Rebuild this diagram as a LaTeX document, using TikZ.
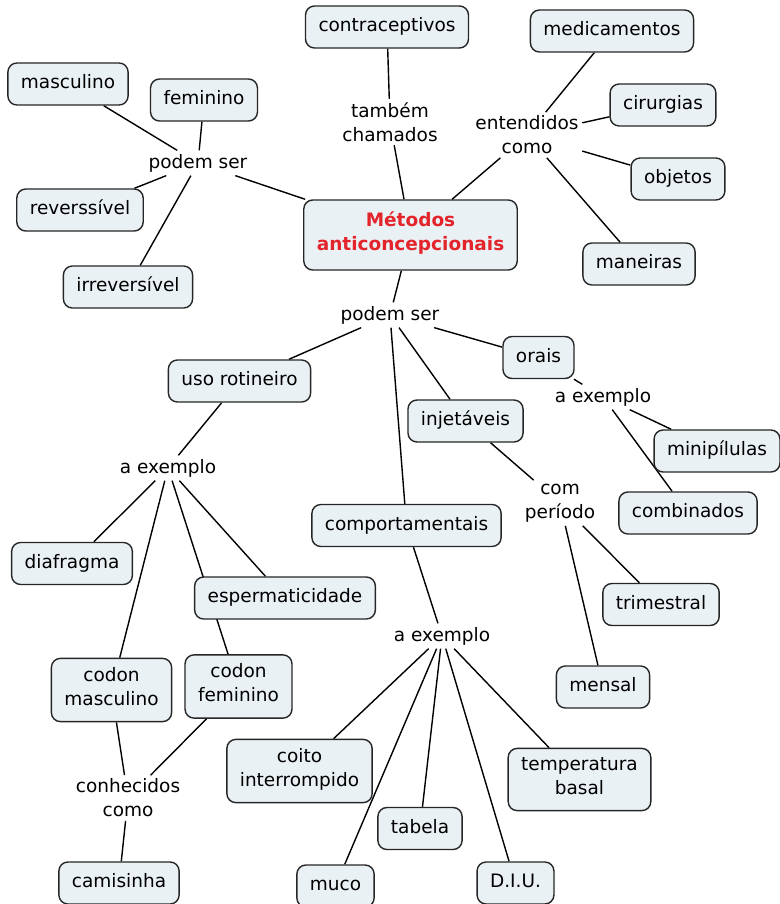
\documentclass[tikz,border=0pt]{standalone}
\usepackage{fontspec}
\setmainfont{DejaVu Sans}
\usetikzlibrary{backgrounds}
\definecolor{conceptfill}{HTML}{EAF1F4}
\definecolor{titlered}{HTML}{E3242B}

\begin{document}
\begin{tikzpicture}[x=1pt,y=-1pt,line width=1.4pt,
  every node/.style={font=\fontsize{18.5}{24}\selectfont,align=center},
  concept/.style={draw=black!85,fill=conceptfill,rounded corners=9pt,inner xsep=13pt,inner ysep=9pt,execute at begin node=\strut,execute at end node=\strut},
  title node/.style={concept,inner ysep=12pt,text=titlered,font=\fontsize{18.5}{24}\selectfont\bfseries},
  link/.style={inner sep=3pt}]
  \useasboundingbox (0,0) rectangle (779,904);

  % center
  \node[title node] (metodos) at (410.5,235) {Métodos\\anticoncepcionais};

  % top
  \node[concept] (contracep) at (387,27) {contraceptivos};
  \node[link] (tambem) at (390,122) {também\\chamados};
  \node[concept] (medic) at (612,31) {medicamentos};
  \node[concept] (cirurg) at (663,105) {cirurgias};
  \node[concept] (objetos) at (678,179) {objetos};
  \node[concept] (maneiras) at (639,264) {maneiras};
  \node[link] (entend) at (527,135) {entendidos\\como};
  \node[concept] (masc) at (68,84) {masculino};
  \node[concept] (femin) at (204,100) {feminino};
  \node[concept] (revers) at (80,210) {reverssível};
  \node[concept] (irrevers) at (128,287) {irreversível};
  \node[link] (podem1) at (198,163) {podem ser};

  % bottom
  \node[link] (podem2) at (390,315) {podem ser};
  \node[concept] (usorot) at (239.5,381) {uso rotineiro};
  \node[concept] (orais) at (538.5,357.5) {orais};
  \node[concept] (injet) at (465.5,421) {injetáveis};
  \node[concept] (comport) at (406.5,525.5) {comportamentais};
  \node[link] (exemplo2) at (603,397) {a exemplo};
  \node[concept] (minipil) at (717,451) {minipílulas};
  \node[concept] (combin) at (688,513) {combinados};
  \node[link] (comper) at (560,503) {com\\período};
  \node[concept] (trimest) at (661,604.5) {trimestral};
  \node[concept] (mensal) at (603,687) {mensal};
  \node[link] (exemplo1) at (168,468) {a exemplo};
  \node[concept] (diafrag) at (72,563.5) {diafragma};
  \node[concept] (esperm) at (285,598) {espermaticidade};
  \node[concept] (codmasc) at (111.5,690) {codon\\masculino};
  \node[concept] (codfem) at (238.5,686.5) {codon\\feminino};
  \node[link] (conhec) at (128,798) {conhecidos\\como};
  \node[concept] (camisinha) at (119,883) {camisinha};
  \node[link] (exemplo3) at (442,636) {a exemplo};
  \node[concept] (coito) at (299.5,771) {coito\\interrompido};
  \node[concept] (temper) at (579.5,779.5) {temperatura\\basal};
  \node[concept] (tabela) at (420,828.5) {tabela};
  \node[concept] (muco) at (335.5,886) {muco};
  \node[concept] (diu) at (515.5,883) {D.I.U.};

\begin{scope}[on background layer]
\path[line width=1.4pt]
  (metodos) edge (podem1)
  (podem1) edge (masc)
  (podem1) edge (femin)
  (podem1) edge (revers)
  (podem1) edge (irrevers)
  (metodos) edge (tambem)
  (tambem) edge (contracep)
  (metodos) edge (entend)
  (entend) edge (medic)
  (entend) edge (cirurg)
  (entend) edge (objetos)
  (entend) edge (maneiras)
  (metodos) edge (podem2)
  (podem2) edge (usorot)
  (podem2) edge (orais)
  (podem2) edge (injet)
  (podem2) edge (comport)
  (orais) edge (exemplo2)
  (exemplo2) edge (minipil)
  (exemplo2) edge (combin)
  (injet) edge (comper)
  (comper) edge (trimest)
  (comper) edge (mensal)
  (usorot) edge (exemplo1)
  (exemplo1) edge (diafrag)
  (exemplo1) edge (esperm)
  (exemplo1) edge (codmasc)
  (exemplo1) edge (codfem)
  (codmasc) edge (conhec)
  (codfem) edge (conhec)
  (conhec) edge (camisinha)
  (comport) edge (exemplo3)
  (exemplo3) edge (coito)
  (exemplo3) edge (muco)
  (exemplo3) edge (tabela)
  (exemplo3) edge (diu)
  (exemplo3) edge (temper)
;
\end{scope}
\end{tikzpicture}
\end{document}
